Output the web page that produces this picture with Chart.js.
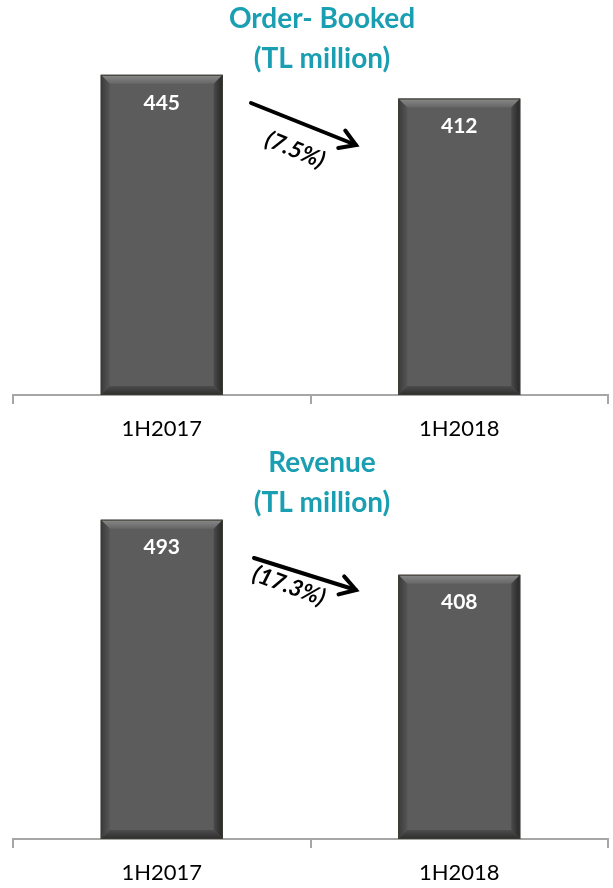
<!DOCTYPE html>
<html>
<head>
<meta charset="utf-8">
<script src="https://cdn.jsdelivr.net/npm/chart.js@4.4.1/dist/chart.umd.min.js"></script>
<style>
  body { margin: 0; background: #fff; }
  .box { position: relative; width: 613px; height: 444px; }
</style>
</head>
<body>
<div class="box"><canvas id="orders"></canvas></div>
<div class="box"><canvas id="revenue"></canvas></div>
<script>
const periods = ['1H2017', '1H2018'];
const orderValues = [445, 412];
const revenueValues = [493, 408];
const orderTitle = ['Order- Booked', '(TL million)'];
const revenueTitle = ['Revenue', '(TL million)'];
const orderChange = '(7.5%)';
const revenueChange = '(17.3%)';

const FONT = 'Lato, "Open Sans", sans-serif';

// titles, bar labels, bevel and trend arrow
const decor = {
  id: 'decor',
  afterDatasetsDraw(chart, args, opts) {
    const ctx = chart.ctx;
    const meta = chart.getDatasetMeta(0);
    const vals = chart.data.datasets[0].data;
    meta.data.forEach((bar, i) => {
      const l = bar.x - bar.width / 2, r = bar.x + bar.width / 2;
      const t = bar.y, b = bar.base, e = 9;
      ctx.save();
      // top bevel
      let g = ctx.createLinearGradient(0, t, 0, t + e);
      g.addColorStop(0, '#8a8a8a'); g.addColorStop(1, '#666');
      ctx.fillStyle = g;
      ctx.beginPath(); ctx.moveTo(l, t); ctx.lineTo(r, t); ctx.lineTo(r - e, t + e); ctx.lineTo(l + e, t + e); ctx.closePath(); ctx.fill();
      // right bevel
      g = ctx.createLinearGradient(r - e, 0, r, 0);
      g.addColorStop(0, '#4a4a4a'); g.addColorStop(1, '#262626');
      ctx.fillStyle = g;
      ctx.beginPath(); ctx.moveTo(r, t); ctx.lineTo(r, b); ctx.lineTo(r - e, b - e); ctx.lineTo(r - e, t + e); ctx.closePath(); ctx.fill();
      // left bevel
      g = ctx.createLinearGradient(l, 0, l + e, 0);
      g.addColorStop(0, '#3a3a3a'); g.addColorStop(1, '#555');
      ctx.fillStyle = g;
      ctx.beginPath(); ctx.moveTo(l, t); ctx.lineTo(l + e, t + e); ctx.lineTo(l + e, b - e); ctx.lineTo(l, b); ctx.closePath(); ctx.fill();
      // bottom bevel
      g = ctx.createLinearGradient(0, b - e, 0, b);
      g.addColorStop(0, '#4c4c4c'); g.addColorStop(1, '#2e2e2e');
      ctx.fillStyle = g;
      ctx.beginPath(); ctx.moveTo(l, b); ctx.lineTo(l + e, b - e); ctx.lineTo(r - e, b - e); ctx.lineTo(r, b); ctx.closePath(); ctx.fill();
      ctx.strokeStyle = '#3c3a30'; ctx.lineWidth = 1;
      ctx.strokeRect(l + 0.5, t + 0.5, r - l - 1, b - t - 1);
      // value label
      ctx.fillStyle = '#fff';
      ctx.font = 'bold 21px ' + FONT;
      ctx.textAlign = 'center'; ctx.textBaseline = 'middle';
      ctx.fillText(vals[i], bar.x, t + 28);
      ctx.restore();
    });

    // title
    ctx.save();
    ctx.fillStyle = '#1a9fb2';
    ctx.font = 'bold 28px ' + FONT;
    ctx.textAlign = 'center'; ctx.textBaseline = 'middle';
    opts.title.forEach((line, k) => ctx.fillText(line, 322, 19 + k * 40));
    ctx.restore();

    // trend arrow
    const a = opts.arrow;
    ctx.save();
    ctx.strokeStyle = '#000'; ctx.lineWidth = 4; ctx.lineCap = 'round';
    ctx.beginPath(); ctx.moveTo(a.x1, a.y1); ctx.lineTo(a.x2, a.y2); ctx.stroke();
    const ang = Math.atan2(a.y2 - a.y1, a.x2 - a.x1);
    ctx.beginPath();
    ctx.moveTo(a.x2 - 18 * Math.cos(ang - 0.55), a.y2 - 18 * Math.sin(ang - 0.55));
    ctx.lineTo(a.x2, a.y2);
    ctx.lineTo(a.x2 - 18 * Math.cos(ang + 0.55), a.y2 - 18 * Math.sin(ang + 0.55));
    ctx.stroke();
    ctx.translate(a.tx, a.ty);
    ctx.rotate(a.rot * Math.PI / 180);
    ctx.fillStyle = '#000';
    ctx.font = 'italic bold 23px ' + FONT;
    ctx.textAlign = 'center'; ctx.textBaseline = 'middle';
    ctx.fillText(a.text, 0, 0);
    ctx.restore();
  }
};

function makeChart(id, values, max, title, arrow) {
  return new Chart(document.getElementById(id), {
    type: 'bar',
    data: {
      labels: periods,
      datasets: [{
        data: values,
        backgroundColor: '#5c5c5c',
        borderWidth: 0,
        categoryPercentage: 1,
        barPercentage: 0.41
      }]
    },
    options: {
      responsive: true,
      maintainAspectRatio: false,
      animation: false,
      layout: { padding: { left: 13, right: 5, top: 64, bottom: 0 } },
      scales: {
        x: {
          afterFit(scale) { scale.height = 49; },
          grid: { offset: true, drawOnChartArea: false, color: '#a6a6a6', lineWidth: 2, tickLength: 9 },
          border: { color: '#a6a6a6', width: 2 },
          ticks: { color: '#000', font: { family: FONT, size: 22 }, padding: 12 }
        },
        y: { display: false, min: 0, max: max }
      },
      plugins: {
        legend: { display: false },
        tooltip: { enabled: false },
        decor: { title: title, arrow: arrow }
      }
    },
    plugins: [decor]
  });
}

makeChart('orders', orderValues, 460, orderTitle,
  { x1: 251, y1: 103, x2: 356, y2: 145, tx: 295, ty: 150, rot: 22, text: orderChange });
makeChart('revenue', revenueValues, 511, revenueTitle,
  { x1: 254, y1: 114, x2: 356, y2: 146, tx: 289, ty: 142, rot: 20, text: revenueChange });
</script>
</body>
</html>
